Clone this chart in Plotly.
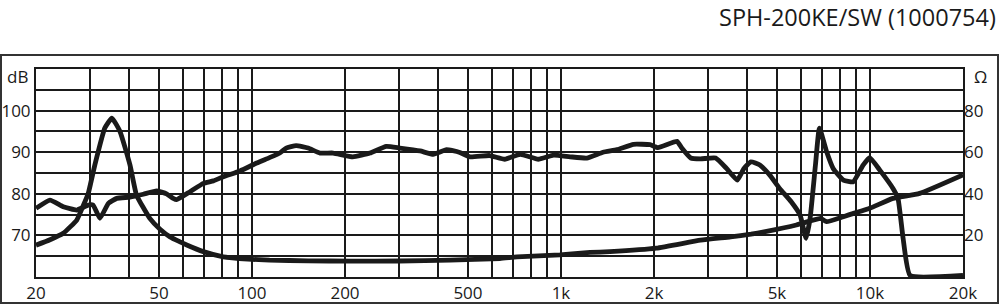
import math
import plotly.graph_objects as go

TITLE = "SPH-200KE/SW (1000754)"

# Frequency response (dB, left axis)
spl_freq = [20, 22.2, 24.5, 27.1, 29.5, 30.6, 32.2, 34.3, 36.5, 40.3, 44.5, 49.1, 52.9,
            55.6, 57, 63, 69.6, 75, 80.8, 91.5, 103.6, 114, 123, 129, 139, 152, 166,
            183, 212, 241, 272, 301, 350, 386, 426, 468, 508, 588, 658, 738, 844, 946,
            1070, 1212, 1368, 1516, 1716, 1942, 2060, 2374, 2460, 2630, 2830, 3166,
            3434, 3720, 3910, 4120, 4400, 4740, 5100, 5560, 5940, 6210, 6400, 6660,
            6860, 7240, 7600, 8200, 8830, 9500, 9980, 10760, 11870, 12320, 12800,
            13480, 20000]
spl_db = [76.5, 78.5, 76.9, 76.1, 77.3, 77.3, 74.1, 77.7, 78.9, 79.2, 79.9, 80.7, 80.0,
          78.9, 78.6, 80.5, 82.5, 83.1, 84.1, 85.5, 87.4, 88.7, 89.8, 91.0, 91.6, 91.0,
          89.8, 89.8, 88.9, 89.8, 91.4, 91.0, 90.3, 89.5, 90.6, 90.0, 88.9, 89.2, 88.3,
          89.5, 88.3, 89.3, 88.9, 88.6, 90.0, 90.6, 91.9, 91.8, 91.1, 92.6, 91.0, 88.6,
          88.4, 88.6, 86.1, 83.3, 86.1, 87.7, 86.9, 84.5, 81.3, 78.1, 74.9, 69.3, 74.1,
          86.9, 95.8, 90.1, 86.1, 83.3, 82.9, 86.9, 88.7, 85.7, 81.3, 78.9, 69.3,
          60.4, 60.4]

# Impedance (Ohm, right axis)
imp_freq = [20, 22.2, 24.5, 27.1, 28.5, 29.5, 31.0, 33.4, 35.2, 37.4, 40.3, 42.3, 46.7,
            50.4, 54.3, 58.5, 61.5, 69.6, 80.8, 97, 114, 152, 208, 300, 438, 634, 720,
            992, 1242, 1440, 2036, 2830, 3540, 4120, 4540, 5780, 6300, 6920, 7240, 8200,
            9980, 11870, 14480, 20000]
imp_ohm = [15.3, 17.9, 21.0, 27.4, 34.6, 40.0, 53.8, 71.6, 76.4, 70.0, 53.8, 39.4, 28.2,
           23.0, 19.3, 16.9, 15.4, 12.2, 9.7, 8.6, 8.1, 7.8, 7.6, 7.7, 8.1, 8.9, 9.7,
           10.6, 11.8, 12.2, 13.9, 17.7, 19.3, 20.6, 21.7, 25.0, 26.6, 28.2, 26.6, 29.0,
           33.0, 37.8, 40.2, 49.1]

# Axis grid / tick labels
grid_freqs = [20, 30, 40, 50, 60, 70, 80, 90, 100, 200, 300, 400, 500, 600, 700, 800, 900,
              1000, 2000, 3000, 4000, 5000, 6000, 7000, 8000, 9000, 10000, 20000]
freq_labels = {20: "20", 50: "50", 100: "100", 200: "200", 500: "500", 1000: "1k",
               2000: "2k", 5000: "5k", 10000: "10k", 20000: "20k"}
db_grid = [60, 65, 70, 75, 80, 85, 90, 95, 100, 105, 110]
db_labels = {70: "70", 80: "80", 90: "90", 100: "100"}
ohm_ticks = [20, 40, 60, 80]

INK = "#1a1a1a"
FONT = "Open Sans"
TICK = 17

fig = go.Figure()
fig.add_trace(go.Scatter(x=spl_freq, y=spl_db, mode="lines",
                         line=dict(color=INK, width=4.8, shape="spline", smoothing=0.4),
                         showlegend=False, hoverinfo="skip"))
fig.add_trace(go.Scatter(x=imp_freq, y=imp_ohm, mode="lines", yaxis="y2",
                         line=dict(color=INK, width=4.8, shape="spline", smoothing=0.4),
                         showlegend=False, hoverinfo="skip"))

L, R, T, B = 36, 37, 69, 28
W, H = 1000, 305
pw, ph = W - L - R, H - T - B

fig.update_layout(
    width=W, height=H,
    margin=dict(l=L, r=R, t=T, b=B, pad=0, autoexpand=False),
    paper_bgcolor="white", plot_bgcolor="white",
    font=dict(family=FONT, size=TICK, color=INK),
    xaxis=dict(type="log", range=[math.log10(20), math.log10(20000)],
               tickvals=grid_freqs,
               ticktext=[freq_labels.get(f, "") for f in grid_freqs],
               showgrid=True, gridcolor=INK, gridwidth=1.9,
               showline=True, linecolor=INK, linewidth=2, mirror=True,
               zeroline=False, ticks="", tickfont=dict(size=TICK), automargin=False),
    yaxis=dict(range=[60, 110], tickvals=db_grid,
               ticktext=[db_labels.get(v, "") for v in db_grid],
               showgrid=True, gridcolor=INK, gridwidth=1.9,
               showline=True, linecolor=INK, linewidth=2, mirror=True,
               zeroline=False, ticks="", tickfont=dict(size=TICK), automargin=False),
    yaxis2=dict(range=[0, 100], overlaying="y", side="right", tickvals=ohm_ticks,
                ticktext=[str(v) for v in ohm_ticks], showgrid=False, zeroline=False,
                ticks="", tickfont=dict(size=TICK), automargin=False),
)

def px_x(px):
    return (px - L) / pw

def px_y(py):
    return (H - B - py) / ph

fig.add_annotation(text=TITLE, xref="paper", yref="paper", x=px_x(998), y=px_y(17),
                   xanchor="right", yanchor="middle", showarrow=False,
                   font=dict(size=23.5, family=FONT, color=INK))
fig.add_annotation(text="dB", xref="paper", yref="paper", x=px_x(30), y=px_y(76),
                   xanchor="right", yanchor="middle", showarrow=False,
                   font=dict(size=TICK, family=FONT, color=INK))
fig.add_annotation(text="Ω", xref="paper", yref="paper", x=px_x(980), y=px_y(76),
                   xanchor="center", yanchor="middle", showarrow=False,
                   font=dict(size=TICK, family=FONT, color=INK))

# outer frame
fig.add_shape(type="rect", xref="paper", yref="paper",
              x0=px_x(1), x1=px_x(998), y0=px_y(303), y1=px_y(55),
              line=dict(color="#333333", width=2), layer="below")

fig.write_html("out.html")
